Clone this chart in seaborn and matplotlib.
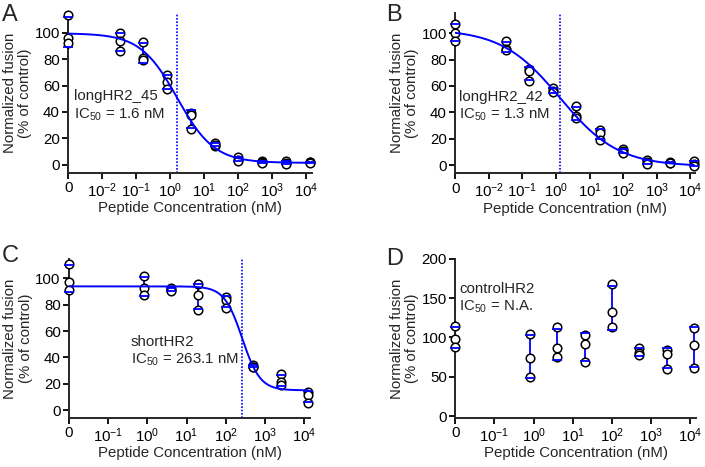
import numpy as np
import pandas as pd
import seaborn as sns
import matplotlib.pyplot as plt

# concentrations (nM), 0 = no peptide
conc_ab = [0, 0.032, 0.16, 0.8, 4, 20, 100, 500, 2500, 12500]
conc_cd = [0, 0.8, 4, 20, 100, 500, 2500, 12500]

# triplicate readings, % of control
fusion_a = [[113, 96, 92], [99.5, 94, 86], [93, 81, 79.5], [68, 63, 57],
            [39.5, 37.5, 27], [16.5, 14.5, 15], [5.8, 3.8, 3], [2.8, 2, 1.5],
            [2.8, 1.5, 0.3], [2.5, 2, 1.5]]
fusion_b = [[106.8, 100, 93.8], [93.8, 88, 87], [73, 71, 64], [58.8, 56, 55.5],
            [45, 37, 36], [27, 24.5, 19.5], [12.5, 10.8, 9], [3.8, 2.5, 1.3],
            [2.5, 2, 1.8], [3.3, 1.3, -0.8]]
fusion_c = [[111, 97.5, 91], [101.8, 93, 87.4], [93, 91, 90.5], [95.6, 87.4, 76.3],
            [85.6, 84, 77.5], [34, 33, 32.5], [27.3, 21.1, 19.1], [14, 11.5, 5.5]]
fusion_d = [[114, 98.5, 88], [104.8, 73.4, 50.3], [113, 86, 74.6], [102.7, 92, 68.3],
            [167.7, 132, 113], [86.8, 79.7, 78], [83.9, 78.4, 60], [112, 90, 61.6]]

names = ["longHR2_45", "longHR2_42", "shortHR2", "controlHR2"]
ic50_text = ["1.6 nM", "1.3 nM", "263.1 nM", "N.A."]

# 4-parameter logistic fit: top, bottom, IC50, hill
fit_a = (99.5, 1.5, 1.6, 0.8)
fit_b = (103, -0.8, 1.3, 0.5)
fit_c = (94, 15, 263.1, 1.9)

blue = "#0000FF"
fs = 10.8

sns.set_theme(style="ticks")
plt.rcParams['font.family'] = ['Liberation Sans', 'DejaVu Sans']
plt.rcParams['mathtext.fontset'] = 'custom'
plt.rcParams['mathtext.rm'] = 'Liberation Sans'
plt.rcParams['axes.linewidth'] = 1.4


def xpos(c, zero_pos):
    c = np.asarray(c, dtype=float)
    out = np.full(c.shape, float(zero_pos))
    out[c > 0] = np.log10(c[c > 0])
    return out


def long_df(conc, fusion, zero_pos):
    rows = []
    for c, reps in zip(conc, fusion):
        for v in reps:
            rows.append({"conc": c, "fusion": v})
    df = pd.DataFrame(rows)
    df["pos"] = xpos(df["conc"].values, zero_pos)
    return df


panels = [
    dict(letter="A", conc=conc_ab, fus=fusion_a, fit=fit_a, zero=-3,
         rect=[0.0969, 0.630, 0.345, 0.3426], ylim=(-6, 115), yt=range(0, 101, 20),
         txt=(-2.84, 44.5), lpos=(2, 4)),
    dict(letter="B", conc=conc_ab, fus=fusion_b, fit=fit_b, zero=-3,
         rect=[0.6458, 0.629, 0.3407, 0.3426], ylim=(-6, 115), yt=range(0, 101, 20),
         txt=(-2.89, 44.5), lpos=(386, 4)),
    dict(letter="C", conc=conc_cd, fus=fusion_c, fit=fit_c, zero=-2,
         rect=[0.0979, 0.105, 0.3418, 0.341], ylim=(-6, 115), yt=range(0, 101, 20),
         txt=(-0.43, 44.5), lpos=(2, 245)),
    dict(letter="D", conc=conc_cd, fus=fusion_d, fit=None, zero=-2,
         rect=[0.6458, 0.105, 0.3418, 0.3405], ylim=(-2.5, 200), yt=range(0, 201, 50),
         txt=(-1.9, 150), lpos=(386, 248)),
]

fig = plt.figure(figsize=(7.05, 4.67), dpi=100)

for i, p in enumerate(panels):
    ax = fig.add_axes(p["rect"])
    df = long_df(p["conc"], p["fus"], p["zero"])
    stats = df.groupby("pos")["fusion"].agg(["mean", "std"]).reset_index()

    eb = ax.errorbar(stats["pos"], stats["mean"], yerr=stats["std"], fmt="none",
                     ecolor=blue, elinewidth=1.3, capsize=3.5, capthick=1.3)
    for cl in eb[1]:
        cl.set_zorder(4)
        cl.set_clip_on(False)
    for bl in eb[2]:
        bl.set_zorder(2)
        bl.set_clip_on(False)

    sns.scatterplot(data=df, x="pos", y="fusion", ax=ax, color="white",
                    edgecolor="black", s=38, linewidth=1.1, zorder=3, clip_on=False)

    xmax = 4.15
    if p["fit"] is not None:
        top, bottom, ic50, hill = p["fit"]
        xs = np.linspace(p["zero"], 4.1, 300)
        ys = bottom + (top - bottom) / (1 + (10 ** xs / ic50) ** hill)
        sns.lineplot(x=xs, y=ys, ax=ax, color=blue, linewidth=1.4, zorder=5)
        ax.axvline(np.log10(ic50), color=blue, linestyle=(0, (1, 1)), linewidth=1.2, zorder=1)

    ax.set_xlim(p["zero"], xmax)
    ax.set_ylim(*p["ylim"])
    ticks = list(range(p["zero"], 5))
    labels = ["0"] + [r"$\mathregular{10^{%d}}$" % t for t in ticks[1:]]
    ax.set_xticks(ticks)
    ax.set_xticklabels(labels)
    ax.set_yticks(list(p["yt"]))
    ax.tick_params(length=4, width=1.3, pad=2, labelsize=fs, colors="black")
    ax.minorticks_off()
    sns.despine(ax=ax)
    ax.set_xlabel("Peptide Concentration (nM)", fontsize=fs, labelpad=1)
    ax.set_ylabel("Normalized fusion\n(% of control)", fontsize=fs, labelpad=2,
                  linespacing=1.1)

    tx, ty = p["txt"]
    ax.text(tx, ty, names[i] + "\n" + r"IC$_{\mathregular{50}}$ = " + ic50_text[i],
            fontsize=fs, va="center", ha="left", linespacing=1.2, zorder=6)

    fig.text(p["lpos"][0] / 705, 1 - p["lpos"][1] / 467, p["letter"], fontsize=17,
             va="top", ha="left")

fig.savefig("out.png", dpi=100)
